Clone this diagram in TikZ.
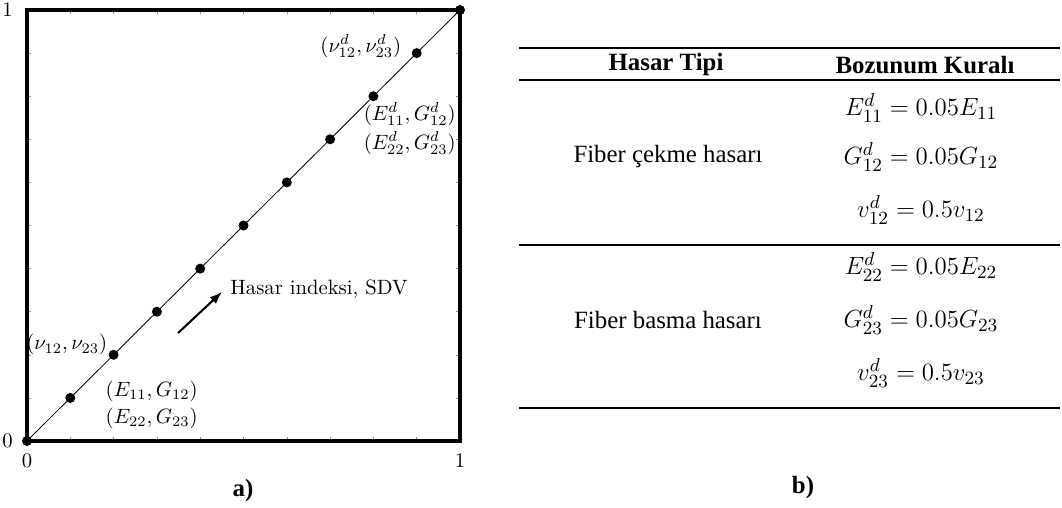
\documentclass[tikz,border=0pt]{standalone}
\usepackage{fontspec}
\newfontfamily\timesfont{Liberation Serif}
\usetikzlibrary{arrows.meta,calc}

\tikzset{
    lbl/.style={inner sep=0pt},
    tbl/.style={inner sep=0pt, font=\timesfont\fontsize{12}{14}\selectfont},
    eqn/.style={inner sep=0pt, font=\fontsize{12.5}{14}\selectfont},
    rule/.style={line width=1.3pt},
}

\begin{document}
\begin{tikzpicture}[x=0.483pt, y=0.483pt]
    \def\boxL{27}
    \def\boxR{460}
    \def\boxB{66}
    \def\boxT{497}

    \definecolor{tickColour}{HTML}{8C8C8C}

    \useasboundingbox (0,0) rectangle (1062,507);

    % Points on the diagonal
    \foreach \i in {0,...,10}
        \coordinate (p\i) at ({\boxL+\i*43.3},{\boxB+\i*43.1});

    % Ticks
    \foreach \i in {1,...,9} {
        \draw[tickColour, very thin] ({\boxL+\i*43.3},\boxB) -- ++(0,4);
        \draw[tickColour, very thin] ({\boxL+\i*43.3},\boxT) -- ++(0,-4);
        \draw[tickColour, very thin] (\boxL,{\boxB+\i*43.1}) -- ++(4,0);
        \draw[tickColour, very thin] (\boxR,{\boxB+\i*43.1}) -- ++(-4,0);
    }

    % Frame
    \draw[line width=1.5pt] (\boxL,\boxB) rectangle (\boxR,\boxT);

    % Diagonal
    \draw[thin] (p0) -- (p10);
    \foreach \i in {0,...,10}
        \fill (p\i) circle (5);

    % Tick labels
    \node[anchor=east] (yZero) at (p0 -| 20,0) {$0$};
    \node[anchor=east] (yOne) at (20,\boxT) {$1$};
    \node[anchor=north] (xZero) at ($(p0)+(0,-6)$) {$0$};
    \node[anchor=north] (xOne) at (\boxR,{\boxB-6}) {$1$};

    % Point labels
    \node[lbl, anchor=east] (nuD) at ($(p9)+(-15,7)$) {$(\nu_{12}^d,\nu_{23}^d)$};
    \node[lbl, anchor=north west, align=left] (modD) at ($(p8)+(-10,-6)$)
        {$(E_{11}^d,G_{12}^d)$\\[2pt] $(E_{22}^d,G_{23}^d)$};
    \node[lbl, anchor=east] (nu) at ($(p2)+(-6,10)$) {$(\nu_{12},\nu_{23})$};
    \node[lbl, anchor=north west, align=left] (mod) at ($(p1)+(35,17)$)
        {$(E_{11},G_{12})$\\[1pt] $(E_{22},G_{23})$};

    % Damage index arrow
    \coordinate (arrS) at (178,174);
    \coordinate (arrE) at (222,215);
    \draw[line width=1pt, -{Latex[length=6pt]}] (arrS) -- (arrE);
    \node[lbl, anchor=west] (sdv) at ($(arrE)+(8,3)$) {Hasar indeksi, SDV};

    \node[tbl, font=\timesfont\bfseries\fontsize{12}{14}\selectfont] (capA) at (243,16) {a)};

    % Table
    \draw[rule] (519,459) -- (1060,459);
    \draw[rule] (519,427) -- (1060,427);
    \draw[rule] (519,262) -- (1060,262);
    \draw[rule] (519,99) -- (1060,99);

    \node[tbl, font=\timesfont\bfseries\fontsize{12}{14}\selectfont] (headType) at (666,442) {Hasar Tipi};
    \node[tbl, font=\timesfont\bfseries\fontsize{12}{14}\selectfont] (headRule) at (925,442) {Bozunum Kuralı};

    \node[tbl] (tension) at (668,350) {Fiber çekme hasarı};
    \node[eqn] (ruleEa) at (921,399) {$E_{11}^d = 0.05E_{11}$};
    \node[eqn] (ruleGa) at (921,350) {$G_{12}^d = 0.05G_{12}$};
    \node[eqn] (ruleVa) at (921,297) {$v_{12}^d = 0.5v_{12}$};

    \node[tbl] (compress) at (668,187) {Fiber basma hasarı};
    \node[eqn] (ruleEb) at (921,240) {$E_{22}^d = 0.05E_{22}$};
    \node[eqn] (ruleGb) at (921,187) {$G_{23}^d = 0.05G_{23}$};
    \node[eqn] (ruleVb) at (921,134) {$v_{23}^d = 0.5v_{23}$};

    \node[tbl, font=\timesfont\bfseries\fontsize{12}{14}\selectfont] (capB) at (803,19) {b)};

\end{tikzpicture}
\end{document}
